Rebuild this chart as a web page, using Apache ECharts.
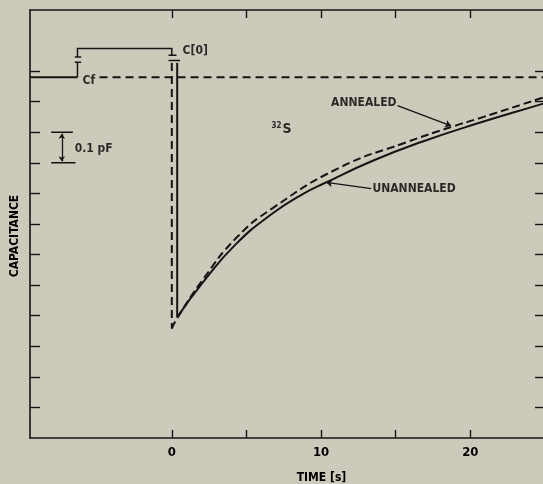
<!DOCTYPE html>
<html>
<head>
<meta charset="utf-8">
<script src="https://cdn.jsdelivr.net/npm/echarts@6/dist/echarts.min.js"></script>
<style>
html,body{margin:0;padding:0;background:#cdcabb;}
#chart{width:543px;height:484px;}
</style>
</head>
<body>
<div id="chart"></div>
<script>
// ---- data (time in s, capacitance in pF) ----
var xTicks = [0, 5, 10, 15, 20, 25];
var xTickLabels = [0, 10, 20];
var yTicks = [0.1, 0.2, 0.3, 0.4, 0.5, 0.6, 0.7, 0.8, 0.9, 1.0, 1.1, 1.2];

// unannealed transient (solid)
var unannealedT = [0.36, 2.08, 4.31, 6.76, 8.77, 10.34, 13.46, 16.81, 20.61, 24.83, 25];
var unannealedC = [0.395, 0.509, 0.635, 0.735, 0.798, 0.836, 0.907, 0.970, 1.031, 1.093, 1.096];
var unannealedDrop = [[0.36, 1.227], [0.36, 0.395]];

// annealed transient (dashed)
var annealedT = [0, 0.36, 2.08, 4.31, 6.76, 11.23, 15.70, 18.82, 20.61, 24.83, 25];
var annealedC = [0.358, 0.392, 0.518, 0.654, 0.752, 0.884, 0.967, 1.019, 1.046, 1.113, 1.116];
var annealedDrop = [[0, 1.227], [0, 0.358]];

// steady-state level before pulse and its extension
var cfSolid = [[-9.5, 1.18], [-6.32, 1.18]];
var cfDashed = [[-4.84, 1.18], [25, 1.18]];

// C(0) dimension bracket
var bracketTop = [[-6.32, 1.246], [-6.32, 1.274], [0, 1.274], [0, 1.252]];
var bracketLeftLow = [[-6.32, 1.229], [-6.32, 1.18]];
var bracketBars = [
  [[-6.5, 1.246], [-6.07, 1.246]],
  [[-6.5, 1.229], [-6.07, 1.229]],
  [[-0.22, 1.252], [0.31, 1.252]],
  [[-0.22, 1.235], [0.55, 1.235]]
];

// 0.1 pF scale bar
var scaleBars = [[[-8.08, 1.0], [-6.63, 1.0]], [[-8.08, 0.9], [-6.45, 0.9]]];
var scaleArrow = [[-7.37, 0.905], [-7.37, 0.995]];

// pointer arrows
var annealedArrow = [[15.12, 1.087], [18.71, 1.021]];
var unannealedArrow = [[13.36, 0.816], [10.34, 0.836]];

// text labels
var labels = [
  {text: 'Cf', t: -5.98, c: 1.168, align: 'left'},
  {text: 'C[0]', t: 0.72, c: 1.266, align: 'left'},
  {text: '0.1 pF', t: -6.51, c: 0.946, align: 'left'},
  {text: 'ANNEALED', t: 15.05, c: 1.097, align: 'right'},
  {text: 'UNANNEALED', t: 13.44, c: 0.814, align: 'left'},
  {text: '{a|32}{b|S}', t: 6.68, c: 1.011, align: 'left'}
];

// ---- chart ----
var FONT = "'Liberation Sans Narrow','DejaVu Sans Condensed','Roboto Condensed','Liberation Sans',sans-serif";
var INK = '#141414';
var TXT = '#000000';

function zip(a, b) { return a.map(function (v, i) { return [v, b[i]]; }); }

var chart = echarts.init(document.getElementById('chart'), null, {renderer: 'canvas'});

var axisCommon = {
  type: 'value',
  axisLine: {show: true, onZero: false, lineStyle: {color: INK, width: 1.6}},
  splitLine: {show: false}
};

var option = {
  backgroundColor: '#cdcabb',
  animation: false,
  grid: {left: 30, top: 10, right: -2, bottom: 46, containLabel: false, outerBoundsMode: 'none'},
  xAxis: [
    Object.assign({}, axisCommon, {
      min: -9.5, max: 25, position: 'bottom',
      axisTick: {show: true, inside: true, length: 8, customValues: xTicks, lineStyle: {color: INK, width: 1.4}},
      axisLabel: {show: true, customValues: xTickLabels, color: TXT, fontFamily: FONT, fontWeight: 'bold', fontSize: 13, margin: 8},
      name: 'TIME [s]', nameLocation: 'middle', nameGap: 34,
      nameTextStyle: {color: TXT, fontFamily: FONT, fontWeight: 'bold', fontSize: 12, padding: [0, 0, 0, 68]}
    }),
    Object.assign({}, axisCommon, {
      min: -9.5, max: 25, position: 'top',
      axisTick: {show: true, inside: true, length: 8, customValues: xTicks, lineStyle: {color: INK, width: 1.4}},
      axisLabel: {show: false}
    })
  ],
  yAxis: [
    Object.assign({}, axisCommon, {
      min: 0, max: 1.4, position: 'left',
      axisTick: {show: true, inside: true, length: 10, customValues: yTicks, lineStyle: {color: INK, width: 1.4}},
      axisLabel: {show: false},
      name: 'CAPACITANCE', nameLocation: 'middle', nameGap: 9, nameRotate: 90,
      nameTextStyle: {color: TXT, fontFamily: FONT, fontWeight: 'bold', fontSize: 12, padding: [0, 24, 0, 0]}
    }),
    Object.assign({}, axisCommon, {
      min: 0, max: 1.4, position: 'right',
      axisTick: {show: true, inside: true, length: 10, customValues: yTicks, lineStyle: {color: INK, width: 1.4}},
      axisLabel: {show: false}
    })
  ],
  series: [
    {
      type: 'line', name: 'UNANNEALED', data: zip(unannealedT, unannealedC),
      smooth: 0.5, showSymbol: false, symbol: 'none',
      lineStyle: {color: INK, width: 2}
    },
    {
      type: 'line', name: 'ANNEALED', data: zip(annealedT, annealedC),
      smooth: 0.5, showSymbol: false, symbol: 'none',
      lineStyle: {color: INK, width: 2, type: [8, 4]}
    },
    {
      type: 'lines', coordinateSystem: 'cartesian2d', polyline: true, silent: true,
      lineStyle: {color: INK, width: 2, opacity: 1},
      data: [{coords: unannealedDrop}, {coords: cfSolid}]
    },
    {
      type: 'lines', coordinateSystem: 'cartesian2d', polyline: true, silent: true,
      lineStyle: {color: INK, width: 2, opacity: 1, type: [8, 5]},
      data: [{coords: annealedDrop}, {coords: cfDashed}]
    },
    {
      type: 'lines', coordinateSystem: 'cartesian2d', polyline: true, silent: true,
      lineStyle: {color: INK, width: 1.5, opacity: 1},
      data: [{coords: bracketTop}, {coords: bracketLeftLow}].concat(
        bracketBars.map(function (b) { return {coords: b}; }),
        scaleBars.map(function (b) { return {coords: b}; }))
    },
    {
      type: 'lines', coordinateSystem: 'cartesian2d', silent: true,
      symbol: ['arrow', 'arrow'], symbolSize: 5,
      lineStyle: {color: INK, width: 1.3, opacity: 1},
      data: [{coords: scaleArrow}]
    },
    {
      type: 'lines', coordinateSystem: 'cartesian2d', silent: true,
      symbol: ['none', 'arrow'], symbolSize: 6,
      lineStyle: {color: INK, width: 1.3, opacity: 1},
      data: [{coords: annealedArrow}, {coords: unannealedArrow}]
    },
    {
      type: 'scatter', symbolSize: 0, silent: true,
      data: labels.map(function (l) {
        return {
          value: [l.t, l.c],
          label: {
            show: true, position: 'inside', formatter: l.text, align: l.align, verticalAlign: 'middle',
            color: TXT, fontFamily: FONT, fontWeight: 'bold', fontSize: 12,
            rich: {
              a: {fontFamily: FONT, fontWeight: 'bold', fontSize: 8, color: TXT, padding: [0, 1, 7, 0]},
              b: {fontFamily: FONT, fontWeight: 'bold', fontSize: 14, color: TXT}
            }
          }
        };
      })
    }
  ]
};
chart.setOption(option);
</script>
</body>
</html>
